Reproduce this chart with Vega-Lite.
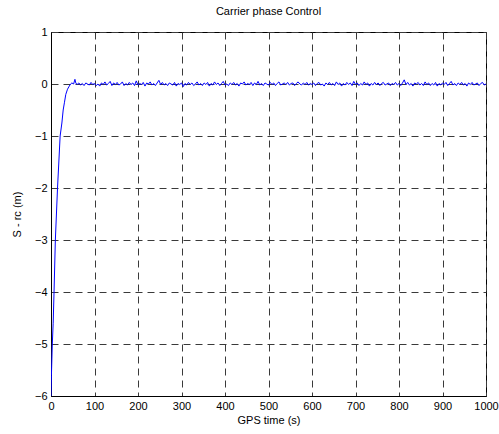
{
  "$schema": "https://vega.github.io/schema/vega-lite/v6.json",
  "width": 435,
  "height": 364,
  "autosize": "none",
  "padding": {"left": 51, "top": 32, "right": 13, "bottom": 38},
  "background": "white",
  "config": {
    "view": {"stroke": "black", "strokeWidth": 1},
    "font": "Liberation Sans",
    "axis": {
      "labelFont": "Liberation Sans",
      "titleFont": "Liberation Sans",
      "labelFontSize": 11,
      "titleFontSize": 11,
      "titleFontWeight": "normal",
      "labelColor": "black",
      "titleColor": "black",
      "domainColor": "black",
      "domainWidth": 1,
      "ticks": false,
      "grid": true,
      "gridDash": [7, 5],
      "gridColor": "#3a3a3a",
      "gridOpacity": 1,
      "gridWidth": 1
    }
  },
  "title": {
    "text": "Carrier phase Control",
    "font": "Liberation Sans",
    "fontSize": 11,
    "fontWeight": "normal",
    "color": "black",
    "offset": 9
  },
  "data": {
    "values": [
      {"t": 0, "v": -6.0}, {"t": 1, "v": -5.6}, {"t": 3, "v": -5.0}, {"t": 5, "v": -4.6},
      {"t": 7, "v": -4.0}, {"t": 10, "v": -3.0}, {"t": 15, "v": -2.0}, {"t": 18, "v": -1.5},
      {"t": 21, "v": -1.0}, {"t": 25, "v": -0.75}, {"t": 28, "v": -0.5}, {"t": 31, "v": -0.35},
      {"t": 34, "v": -0.2}, {"t": 38, "v": -0.1}, {"t": 42, "v": -0.04}, {"t": 45, "v": 0.0},
      {"t": 48, "v": 0.02}, {"t": 52, "v": 0.0}, {"t": 55, "v": 0.09}, {"t": 57, "v": 0.02},
      {"t": 60, "v": -0.01}, {"t": 64, "v": 0.02}, {"t": 68, "v": -0.02}, {"t": 72, "v": 0.01},
      {"t": 76, "v": -0.03}, {"t": 80, "v": 0.02}, {"t": 84, "v": 0.0}, {"t": 88, "v": -0.02},
      {"t": 92, "v": 0.03}, {"t": 96, "v": -0.01}, {"t": 100, "v": 0.01}, {"t": 104, "v": -0.03},
      {"t": 108, "v": 0.0}, {"t": 112, "v": -0.04}, {"t": 116, "v": 0.02}, {"t": 120, "v": -0.01},
      {"t": 124, "v": 0.04}, {"t": 128, "v": -0.02}, {"t": 132, "v": 0.01}, {"t": 136, "v": 0.05},
      {"t": 140, "v": -0.03}, {"t": 144, "v": 0.02}, {"t": 148, "v": -0.01}, {"t": 152, "v": 0.03},
      {"t": 156, "v": -0.02}, {"t": 160, "v": 0.0}, {"t": 164, "v": 0.04}, {"t": 168, "v": -0.03},
      {"t": 172, "v": 0.01}, {"t": 176, "v": -0.02}, {"t": 180, "v": 0.03}, {"t": 184, "v": -0.01},
      {"t": 188, "v": 0.02}, {"t": 192, "v": -0.03}, {"t": 196, "v": 0.06}, {"t": 200, "v": -0.02},
      {"t": 204, "v": 0.01}, {"t": 208, "v": -0.01}, {"t": 212, "v": 0.03}, {"t": 216, "v": -0.04},
      {"t": 220, "v": 0.02}, {"t": 224, "v": 0.0}, {"t": 228, "v": 0.04}, {"t": 232, "v": -0.02},
      {"t": 236, "v": 0.01}, {"t": 240, "v": -0.03}, {"t": 244, "v": 0.02}, {"t": 248, "v": 0.07},
      {"t": 252, "v": -0.01}, {"t": 256, "v": 0.03}, {"t": 260, "v": -0.02}, {"t": 264, "v": 0.01},
      {"t": 268, "v": -0.03}, {"t": 272, "v": 0.02}, {"t": 276, "v": 0.0}, {"t": 280, "v": -0.02},
      {"t": 284, "v": 0.03}, {"t": 288, "v": -0.04}, {"t": 292, "v": 0.01}, {"t": 296, "v": -0.01},
      {"t": 300, "v": 0.02}, {"t": 304, "v": -0.05}, {"t": 308, "v": 0.01}, {"t": 312, "v": -0.02},
      {"t": 316, "v": 0.03}, {"t": 320, "v": -0.01}, {"t": 324, "v": 0.02}, {"t": 328, "v": -0.03},
      {"t": 332, "v": 0.0}, {"t": 336, "v": 0.04}, {"t": 340, "v": -0.02}, {"t": 344, "v": 0.01},
      {"t": 348, "v": -0.03}, {"t": 352, "v": 0.02}, {"t": 356, "v": -0.01}, {"t": 360, "v": 0.03},
      {"t": 364, "v": -0.04}, {"t": 368, "v": 0.01}, {"t": 372, "v": -0.02}, {"t": 376, "v": 0.04},
      {"t": 380, "v": -0.01}, {"t": 384, "v": 0.02}, {"t": 388, "v": -0.03}, {"t": 392, "v": 0.01},
      {"t": 396, "v": 0.05}, {"t": 400, "v": -0.02}, {"t": 404, "v": 0.0}, {"t": 408, "v": -0.03},
      {"t": 412, "v": 0.02}, {"t": 416, "v": -0.01}, {"t": 420, "v": 0.03}, {"t": 424, "v": -0.02},
      {"t": 428, "v": 0.01}, {"t": 432, "v": -0.04}, {"t": 436, "v": 0.02}, {"t": 440, "v": 0.0},
      {"t": 444, "v": 0.04}, {"t": 448, "v": -0.02}, {"t": 452, "v": 0.01}, {"t": 456, "v": -0.01},
      {"t": 460, "v": 0.03}, {"t": 464, "v": -0.03}, {"t": 468, "v": 0.02}, {"t": 472, "v": -0.01},
      {"t": 476, "v": 0.05}, {"t": 480, "v": -0.02}, {"t": 484, "v": 0.01}, {"t": 488, "v": -0.03},
      {"t": 492, "v": 0.02}, {"t": 496, "v": 0.0}, {"t": 500, "v": -0.02}, {"t": 504, "v": 0.03},
      {"t": 508, "v": -0.01}, {"t": 512, "v": 0.02}, {"t": 516, "v": -0.03}, {"t": 520, "v": 0.01},
      {"t": 524, "v": 0.04}, {"t": 528, "v": -0.02}, {"t": 532, "v": 0.0}, {"t": 536, "v": 0.02},
      {"t": 540, "v": -0.01}, {"t": 544, "v": 0.03}, {"t": 548, "v": -0.02}, {"t": 552, "v": 0.01},
      {"t": 556, "v": 0.02}, {"t": 560, "v": -0.03}, {"t": 564, "v": 0.01}, {"t": 568, "v": 0.04},
      {"t": 572, "v": 0.0}, {"t": 576, "v": -0.02}, {"t": 580, "v": 0.02}, {"t": 584, "v": -0.01},
      {"t": 588, "v": 0.03}, {"t": 592, "v": -0.02}, {"t": 596, "v": 0.01}, {"t": 600, "v": -0.01},
      {"t": 604, "v": 0.02}, {"t": 608, "v": -0.03}, {"t": 612, "v": 0.01}, {"t": 616, "v": 0.03},
      {"t": 620, "v": -0.02}, {"t": 624, "v": 0.0}, {"t": 628, "v": -0.04}, {"t": 632, "v": 0.02},
      {"t": 636, "v": -0.01}, {"t": 640, "v": 0.03}, {"t": 644, "v": -0.02}, {"t": 648, "v": 0.01},
      {"t": 652, "v": -0.03}, {"t": 656, "v": 0.04}, {"t": 660, "v": -0.01}, {"t": 664, "v": 0.02},
      {"t": 668, "v": -0.04}, {"t": 672, "v": 0.01}, {"t": 676, "v": -0.02}, {"t": 680, "v": 0.03},
      {"t": 684, "v": -0.01}, {"t": 688, "v": 0.02}, {"t": 692, "v": -0.03}, {"t": 696, "v": 0.05},
      {"t": 700, "v": -0.01}, {"t": 704, "v": 0.02}, {"t": 708, "v": -0.03}, {"t": 712, "v": 0.01},
      {"t": 716, "v": -0.02}, {"t": 720, "v": 0.04}, {"t": 724, "v": -0.01}, {"t": 728, "v": 0.02},
      {"t": 732, "v": -0.04}, {"t": 736, "v": 0.01}, {"t": 740, "v": -0.02}, {"t": 744, "v": 0.03},
      {"t": 748, "v": -0.01}, {"t": 752, "v": 0.02}, {"t": 756, "v": -0.03}, {"t": 760, "v": 0.01},
      {"t": 764, "v": 0.03}, {"t": 768, "v": -0.02}, {"t": 772, "v": 0.0}, {"t": 776, "v": 0.02},
      {"t": 780, "v": -0.03}, {"t": 784, "v": 0.01}, {"t": 788, "v": -0.01}, {"t": 792, "v": 0.03},
      {"t": 796, "v": -0.02}, {"t": 800, "v": 0.01}, {"t": 804, "v": -0.03}, {"t": 808, "v": 0.02},
      {"t": 812, "v": 0.08}, {"t": 816, "v": -0.01}, {"t": 820, "v": 0.03}, {"t": 824, "v": -0.02},
      {"t": 828, "v": 0.01}, {"t": 832, "v": -0.04}, {"t": 836, "v": 0.02}, {"t": 840, "v": 0.0},
      {"t": 844, "v": 0.03}, {"t": 848, "v": -0.02}, {"t": 852, "v": 0.01}, {"t": 856, "v": -0.03},
      {"t": 860, "v": 0.04}, {"t": 864, "v": -0.01}, {"t": 868, "v": 0.02}, {"t": 872, "v": -0.03},
      {"t": 876, "v": 0.01}, {"t": 880, "v": -0.02}, {"t": 884, "v": 0.03}, {"t": 888, "v": -0.04},
      {"t": 892, "v": 0.01}, {"t": 896, "v": -0.02}, {"t": 900, "v": 0.02}, {"t": 904, "v": -0.01},
      {"t": 908, "v": 0.03}, {"t": 912, "v": -0.03}, {"t": 916, "v": 0.01}, {"t": 920, "v": 0.05},
      {"t": 924, "v": -0.02}, {"t": 928, "v": 0.01}, {"t": 932, "v": -0.03}, {"t": 936, "v": 0.02},
      {"t": 940, "v": -0.01}, {"t": 944, "v": 0.03}, {"t": 948, "v": -0.02}, {"t": 952, "v": 0.01},
      {"t": 956, "v": -0.04}, {"t": 960, "v": 0.02}, {"t": 964, "v": -0.01}, {"t": 968, "v": 0.03},
      {"t": 972, "v": -0.02}, {"t": 976, "v": 0.0}, {"t": 980, "v": 0.02}, {"t": 984, "v": -0.03},
      {"t": 988, "v": 0.01}, {"t": 992, "v": 0.03}, {"t": 996, "v": -0.02}, {"t": 1000, "v": 0.0}
    ]
  },
  "mark": {"type": "line", "color": "#0000ff", "strokeWidth": 1, "clip": true},
  "encoding": {
    "x": {
      "field": "t",
      "type": "quantitative",
      "scale": {"domain": [0, 1000], "nice": false},
      "axis": {
        "values": [0, 100, 200, 300, 400, 500, 600, 700, 800, 900, 1000],
        "format": "d",
        "title": "GPS time (s)",
        "labelPadding": 4,
        "titlePadding": 3,
        "labelFlush": false
      }
    },
    "y": {
      "field": "v",
      "type": "quantitative",
      "scale": {"domain": [-6, 1], "nice": false, "zero": false},
      "axis": {
        "values": [-6, -5, -4, -3, -2, -1, 0, 1],
        "format": "d",
        "title": "S - rc (m)",
        "labelPadding": 4,
        "titlePadding": 12,
        "labelFlush": false
      }
    }
  }
}
